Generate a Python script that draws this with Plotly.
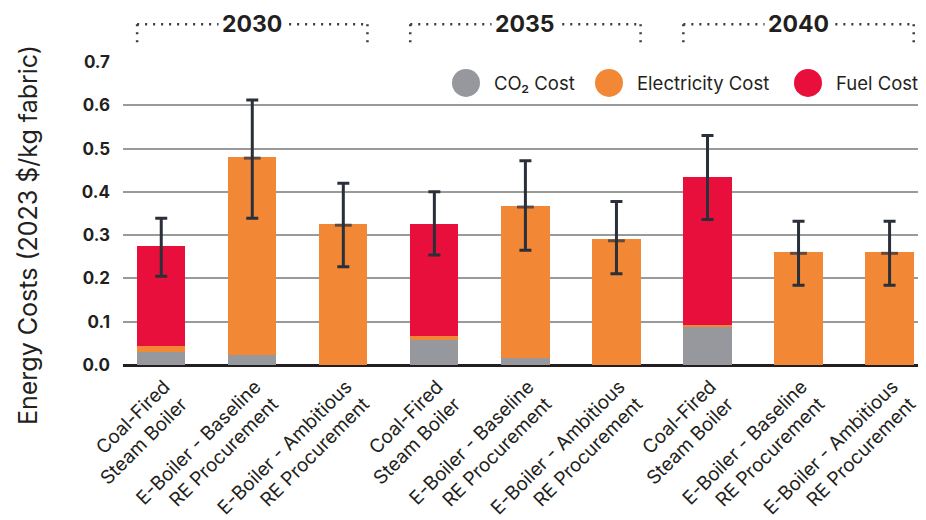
import plotly.graph_objects as go

# data
categories = [
    "Coal-Fired<br>Steam Boiler",
    "E-Boiler - Baseline<br>RE Procurement",
    "E-Boiler - Ambitious<br>RE Procurement",
] * 3
years = ["2030", "2035", "2040"]
co2_cost = [0.031, 0.022, 0.0, 0.057, 0.016, 0.0, 0.090, 0.0, 0.0]
elec_cost = [0.012, 0.458, 0.325, 0.009, 0.351, 0.290, 0.003, 0.262, 0.262]
fuel_cost = [0.231, 0.0, 0.0, 0.259, 0.0, 0.0, 0.341, 0.0, 0.0]
err_mid = [0.274, 0.478, 0.323, 0.325, 0.365, 0.287, 0.434, 0.258, 0.258]
err_high = [0.339, 0.612, 0.420, 0.400, 0.472, 0.378, 0.530, 0.332, 0.332]
err_low = [0.205, 0.339, 0.227, 0.254, 0.265, 0.211, 0.336, 0.184, 0.184]
show_mid = [False, True, True, False, True, True, False, True, True]

COLORS = {"CO₂ Cost": "#96989d", "Electricity Cost": "#f28835", "Fuel Cost": "#e90f3c"}
TEXT = "#231f20"
FONT = "Inter"

# page body adds 8px, so the figure is shifted back by that amount
PLOT_L, PLOT_W = 123, 803

xs = list(range(len(categories)))
fig = go.Figure()
for name, vals in [("CO₂ Cost", co2_cost), ("Electricity Cost", elec_cost), ("Fuel Cost", fuel_cost)]:
    fig.add_bar(x=xs, y=vals, name=name, marker_color=COLORS[name],
                marker_line_width=0, width=0.53, showlegend=False)

fig.add_scatter(
    x=xs, y=err_mid, mode="markers", showlegend=False,
    marker=dict(symbol="line-ew", size=[12 if s else 0 for s in show_mid],
                color="#2b2f3a", line=dict(width=3, color="#2b2f3a")),
    error_y=dict(type="data", symmetric=False,
                 array=[h - m for h, m in zip(err_high, err_mid)],
                 arrayminus=[m - l for m, l in zip(err_mid, err_low)],
                 color="#2b2f3a", thickness=3, width=6),
)

# year brackets
for i, yr in enumerate(years):
    x0, x1 = 3 * i - 0.265, 3 * i + 2 + 0.265
    line = dict(color="#3a3a3a", width=2.5, dash="2px,6px")
    fig.add_shape(type="line", xref="x", yref="paper", x0=x0, x1=x1, y0=1.125, y1=1.125, line=line)
    fig.add_shape(type="line", xref="x", yref="paper", x0=x0, x1=x0, y0=1.125, y1=1.055, line=line)
    fig.add_shape(type="line", xref="x", yref="paper", x0=x1, x1=x1, y0=1.125, y1=1.055, line=line)
    fig.add_annotation(x=3 * i + 1, y=1.125, xref="x", yref="paper", text=f"<b>{yr}</b>",
                       showarrow=False, bgcolor="white", borderpad=3,
                       xanchor="center", yanchor="middle",
                       font=dict(family=FONT, size=23, color=TEXT))

# legend drawn by hand (big circles)
legend_items = [("CO₂ Cost", 466, 492), ("Electricity Cost", 609, 635), ("Fuel Cost", 808, 834)]
for name, cx, tx in legend_items:
    fig.add_shape(type="circle", xref="paper", yref="paper", xsizemode="pixel", ysizemode="pixel",
                  xanchor=(cx - PLOT_L) / PLOT_W, yanchor=0.931, x0=-14, x1=14, y0=-14, y1=14,
                  fillcolor=COLORS[name], line_width=0)
    fig.add_annotation(x=(tx - PLOT_L) / PLOT_W, y=0.931, xref="paper", yref="paper", text=name,
                       showarrow=False, xanchor="left", yanchor="middle",
                       font=dict(family=FONT, size=18.5, color=TEXT))

fig.add_annotation(x=-95 / PLOT_W, y=0.429, xref="paper", yref="paper",
                   xanchor="center", yanchor="middle",
                   text="Energy Costs (2023 $/kg fabric)", textangle=-90, showarrow=False,
                   font=dict(family=FONT, size=25, color=TEXT))

fig.update_layout(
    width=918, height=512, barmode="stack",
    margin=dict(l=115, r=0, t=54, b=155),
    plot_bgcolor="white", paper_bgcolor="white",
    font=dict(family=FONT, color=TEXT),
)
fig.update_xaxes(range=[-0.42, 8.4], tickmode="array", tickvals=xs, ticktext=categories,
                 tickangle=-45, tickfont=dict(size=19, color=TEXT), showgrid=False,
                 showline=False, zeroline=False, automargin=False,
                 ticklabelshift=3, ticklabelstandoff=6, ticklabeloverflow="allow")
fig.update_yaxes(range=[0, 0.7], dtick=0.1, tickformat=".1f", showgrid=True,
                 gridcolor="#9a9a9a", gridwidth=1.5, zeroline=True, zerolinecolor=TEXT,
                 zerolinewidth=3, tickfont=dict(size=17, color=TEXT, weight="bold"),
                 ticklabelstandoff=12, automargin=False)

fig.write_html("out.html")
